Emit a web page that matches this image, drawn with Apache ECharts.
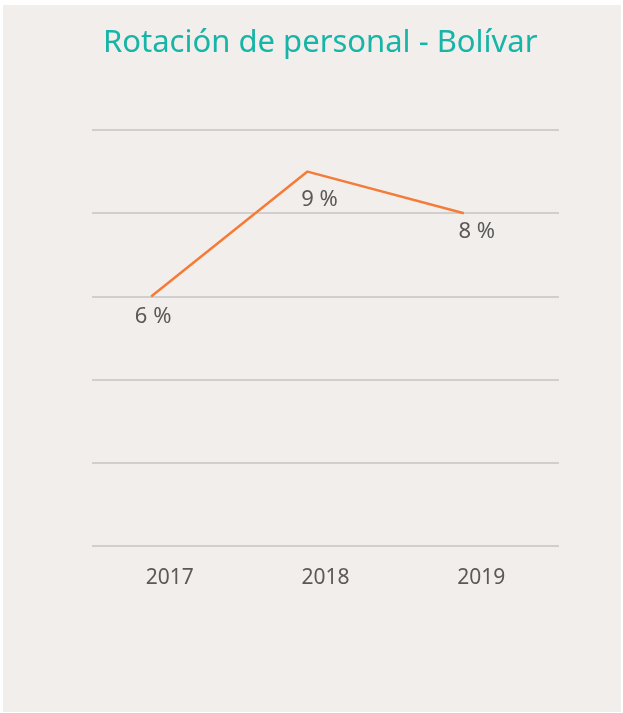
<!DOCTYPE html>
<html>
<head>
<meta charset="utf-8">
<script src="https://cdn.jsdelivr.net/npm/echarts@6/dist/echarts.min.js"></script>
<style>
  html, body { margin: 0; padding: 0; background: #ffffff; }
  #chart { position: absolute; left: 3px; top: 5px; width: 618px; height: 707px; background: #f2eeeb; }
</style>
</head>
<body>
<div id="chart"></div>
<script>
// datos
const years = ['2017', '2018', '2019']
const rotacion = [6, 9, 8]
const yTicks = [0, 2, 4, 6, 8, 10]

// desplazamiento de las etiquetas (solo estilo)
const labelOffsets = [[2, 4], [12, 12], [13, 2]]

const textColor = '#595959'
const fontFam = '"Noto Sans", "Open Sans", sans-serif'

const chart = echarts.init(document.getElementById('chart'))

const option = {
  backgroundColor: 'transparent',
  title: {
    text: 'Rotación de personal - Bolívar',
    left: 95,
    top: 18,
    textStyle: {
      color: '#17b5a7',
      fontSize: 31,
      fontWeight: 'normal',
      fontFamily: fontFam
    }
  },
  grid: [
    { left: 89, right: 62, top: 125, bottom: 166 },
    { left: 70, right: 79, top: 125, bottom: 166 }
  ],
  xAxis: [
    {
      type: 'category',
      gridIndex: 0,
      data: years,
      axisLine: { show: false },
      axisTick: { show: false },
      axisLabel: {
        color: textColor,
        fontSize: 21,
        margin: 22,
        fontFamily: fontFam
      }
    },
    {
      type: 'category',
      gridIndex: 1,
      data: years,
      show: false
    }
  ],
  yAxis: [
    {
      type: 'value',
      gridIndex: 0,
      min: yTicks[0],
      max: yTicks[yTicks.length - 1],
      interval: yTicks[1] - yTicks[0],
      axisLine: { show: false },
      axisTick: { show: false },
      axisLabel: { show: false },
      splitLine: {
        lineStyle: { color: '#c4c4c4', width: 1.5 }
      }
    },
    {
      type: 'value',
      gridIndex: 1,
      min: yTicks[0],
      max: yTicks[yTicks.length - 1],
      interval: yTicks[1] - yTicks[0],
      show: false,
      splitLine: { show: false }
    }
  ],
  series: [
    {
      name: 'Rotación',
      type: 'line',
      xAxisIndex: 1,
      yAxisIndex: 1,
      data: rotacion.map((v, i) => ({
        value: v,
        label: { offset: labelOffsets[i] }
      })),
      symbol: 'circle',
      symbolSize: 0.1,
      showSymbol: true,
      itemStyle: { color: '#f47b38' },
      lineStyle: { color: '#f47b38', width: 2.5 },
      label: {
        show: true,
        position: 'bottom',
        color: textColor,
        fontSize: 22,
        fontFamily: fontFam,
        formatter: (p) => p.value + ' %'
      },
      animation: false
    }
  ]
}

chart.setOption(option)
</script>
</body>
</html>
